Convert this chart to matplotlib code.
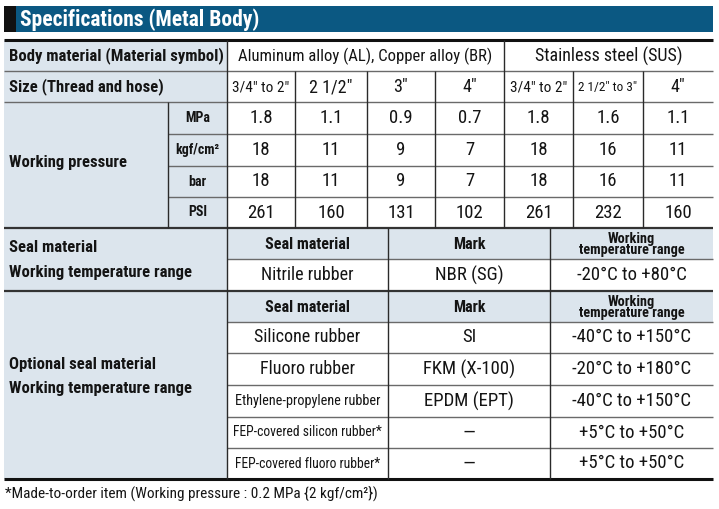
import matplotlib.pyplot as plt
from matplotlib.patches import Rectangle

# data
title = "Specifications (Metal Body)"
body_groups = ["Aluminum alloy (AL), Copper alloy (BR)", "Stainless steel (SUS)"]
group_span = [4, 3]
sizes = ['3/4" to 2"', '2 1/2"', '3"', '4"', '3/4" to 2"', '2 1/2" to 3"', '4"']
units = ["MPa", "kgf/cm²", "bar", "PSI"]
mpa = [1.8, 1.1, 0.9, 0.7, 1.8, 1.6, 1.1]
kgf = [18, 11, 9, 7, 18, 16, 11]
bar = [18, 11, 9, 7, 18, 16, 11]
psi = [261, 160, 131, 102, 261, 232, 160]
seal_head = ["Seal material", "Mark", "Working\ntemperature range"]
std_seal = ["Nitrile rubber"]
std_mark = ["NBR (SG)"]
std_temp = ["-20°C to +80°C"]
opt_seal = ["Silicone rubber", "Fluoro rubber", "Ethylene-propylene rubber",
            "FEP-covered silicon rubber*", "FEP-covered fluoro rubber*"]
opt_mark = ["SI", "FKM (X-100)", "EPDM (EPT)", "—", "—"]
opt_temp = ["-40°C to +150°C", "-20°C to +180°C", "-40°C to +150°C",
            "+5°C to +50°C", "+5°C to +50°C"]
footnote = "*Made-to-order item (Working pressure : 0.2 MPa {2 kgf/cm²})"

plt.rcParams["font.family"] = ["Roboto Condensed", "DejaVu Sans"]
BLUE = "#0b5882"
LIGHT = "#dce5ed"
HLINE = "#6a6a6a"
VLINE = "#2a2a2a"
INK = "#141414"

fig = plt.figure(figsize=(7.19, 5.09), dpi=100)
ax = fig.add_axes([0, 0, 1, 1])
ax.set_xlim(0, 719)
ax.set_ylim(509, 0)
ax.axis("off")


def box(x0, y0, x1, y1, color):
    ax.add_patch(Rectangle((x0, y0), x1 - x0, y1 - y0, facecolor=color, edgecolor="none"))


def txt(x, y, s, size=13.5, bold=False, ha="center", **kw):
    ax.text(x, y, s, fontsize=size, fontweight="bold" if bold else "normal",
            ha=ha, va="center", color=INK, **kw)


def hline(y, x0, x1, lw=1.0, c=HLINE):
    ax.plot([x0, x1], [y, y], color=c, lw=lw, solid_capstyle="butt")


def vline(x, y0, y1, lw=1.0, c=VLINE):
    ax.plot([x, x], [y0, y1], color=c, lw=lw, solid_capstyle="butt")


# title bar
box(4, 6, 713, 32, BLUE)
box(4, 6, 16, 32, "#111111")
ax.text(20, 19.5, title, fontsize=15.5, fontweight="bold", color="white",
        ha="left", va="center")

# grid geometry
L, UX, DX, R = 4, 168, 227, 713
cols = [227, 295, 367, 435, 504, 573, 643, 713]
ys = [40, 71, 102, 134, 166, 197, 228, 259, 291, 322, 353, 385, 417, 448, 479]
sx = [227, 388, 550, 713]

# backgrounds
box(L, 40, DX, 479, LIGHT)
box(DX, 40, R, 479, "white")
box(DX, 228, R, 259, LIGHT)
box(DX, 291, R, 322, LIGHT)

# lines
hline(40, L, R, lw=2.2, c="#111111")
hline(71, L, R)
hline(102, L, R)
for y in ys[3:6]:
    hline(y, UX, R)
hline(228, L, R, lw=1.6, c="#333333")
hline(259, DX, R)
hline(291, L, R, lw=1.6, c="#333333")
for y in ys[9:14]:
    hline(y, DX, R)
hline(479, L, R, lw=2.2, c="#111111")

vline(DX, 40, 479)
vline(504, 40, 228)
for x in [295, 367, 435, 573, 643]:
    vline(x, 71, 228)
vline(UX, 102, 228)
vline(sx[1], 228, 479)
vline(sx[2], 228, 479)

# left labels
LS = 12
txt(9, 56, "Body material (Material symbol)", size=LS, bold=True, ha="left")
txt(9, 87, "Size (Thread and hose)", size=LS, bold=True, ha="left")
txt(9, 163, "Working pressure", size=LS, bold=True, ha="left")
txt(9, 248, "Seal material", size=LS, bold=True, ha="left")
txt(9, 273, "Working temperature range", size=LS, bold=True, ha="left")
txt(9, 365, "Optional seal material", size=LS, bold=True, ha="left")
txt(9, 389, "Working temperature range", size=LS, bold=True, ha="left")

for i, u in enumerate(units):
    txt((UX + DX) / 2, (ys[2 + i] + ys[3 + i]) / 2, u, size=10, bold=True)

# body material groups
c0 = 0
for g, span, fs in zip(body_groups, group_span, [12, 13]):
    txt((cols[c0] + cols[c0 + span]) / 2, 56, g, size=fs)
    c0 += span

# sizes
for i, s in enumerate(sizes):
    fs = 13 if len(s) < 7 else (11 if len(s) < 11 else 9.5)
    txt((cols[i] + cols[i + 1]) / 2, 87, s, size=fs)

# pressure values
for r, vals in enumerate([mpa, kgf, bar, psi]):
    yc = (ys[2 + r] + ys[3 + r]) / 2
    for i, v in enumerate(vals):
        txt((cols[i] + cols[i + 1]) / 2, yc, str(v), size=13.5)


def seal_block(y_head, names, marks, temps):
    for j, h in enumerate(seal_head):
        xc = (sx[j] + sx[j + 1]) / 2
        if "\n" in h:
            ax.text(xc, (ys[y_head] + ys[y_head + 1]) / 2 + 1, h, fontsize=10.3,
                    fontweight="bold", ha="center", va="center", color=INK,
                    linespacing=0.8)
        else:
            txt(xc, (ys[y_head] + ys[y_head + 1]) / 2 + 1, h, size=11.5, bold=True)
    for k, (n, m, t) in enumerate(zip(names, marks, temps)):
        yc = (ys[y_head + 1 + k] + ys[y_head + 2 + k]) / 2
        if len(n) > 25:
            fs = 9.8
        elif len(n) > 16:
            fs = 10.3
        else:
            fs = 13
        txt((sx[0] + sx[1]) / 2, yc, n, size=fs)
        txt((sx[1] + sx[2]) / 2, yc, m, size=13.5)
        txt((sx[2] + sx[3]) / 2, yc, t, size=13.5)


seal_block(6, std_seal, std_mark, std_temp)
seal_block(8, opt_seal, opt_mark, opt_temp)

txt(5, 493, footnote, size=11, ha="left")

fig.savefig("out.png", dpi=100)
